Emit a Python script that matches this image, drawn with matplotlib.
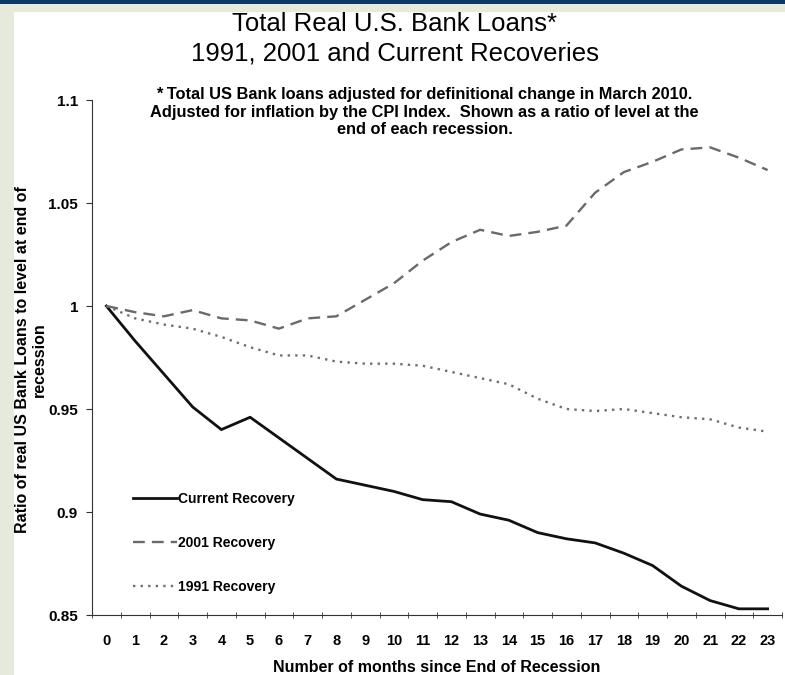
import matplotlib
matplotlib.use("Agg")
import matplotlib.pyplot as plt
from matplotlib.patches import Rectangle

plt.rcParams['font.family'] = ['Liberation Sans', 'DejaVu Sans']

# --- Données ---
months = list(range(24))
current = [1.000, 0.983, 0.967, 0.951, 0.940, 0.946, 0.936, 0.926, 0.916, 0.913,
           0.910, 0.906, 0.905, 0.899, 0.896, 0.890, 0.887, 0.885, 0.880, 0.874,
           0.864, 0.857, 0.853, 0.853]
rec_2001 = [1.000, 0.997, 0.995, 0.998, 0.994, 0.993, 0.989, 0.994, 0.995, 1.003,
            1.011, 1.022, 1.031, 1.037, 1.034, 1.036, 1.039, 1.055, 1.065, 1.070,
            1.076, 1.077, 1.072, 1.066]
rec_1991 = [1.000, 0.994, 0.991, 0.989, 0.985, 0.980, 0.976, 0.976, 0.973, 0.972,
            0.972, 0.971, 0.968, 0.965, 0.962, 0.955, 0.950, 0.949, 0.950, 0.948,
            0.946, 0.945, 0.941, 0.939]
y_ticks = [0.85, 0.9, 0.95, 1.0, 1.05, 1.1]
y_tick_labels = ['0.85', '0.9', '0.95', '1', '1.05', '1.1']

fig = plt.figure(figsize=(7.85, 6.75), dpi=100)
fig.patch.set_facecolor('white')

# Cadre : bande bleue en haut, bordure verte claire
green = '#e6eadb'
fig.patches.append(Rectangle((0, 1 - 12 / 675), 1, 12 / 675, transform=fig.transFigure,
                             facecolor=green, edgecolor='none', zorder=0))
fig.patches.append(Rectangle((0, 0), 14 / 785, 1, transform=fig.transFigure,
                             facecolor=green, edgecolor='none', zorder=0))
fig.patches.append(Rectangle((0, 1 - 3.5 / 675), 1, 3.5 / 675, transform=fig.transFigure,
                             facecolor='#0b3866', edgecolor='none', zorder=1))

ax = fig.add_axes([92 / 785, 1 - 615 / 675, (782 - 92) / 785, (615 - 100) / 675])

ax.plot(months, current, color='#111111', lw=2.0, label='Current Recovery')
ax.plot(months, rec_2001, color='#6a6a6a', lw=1.7, dashes=(5, 3), label='2001 Recovery')
ax.plot(months, rec_1991, color='#6f6f6f', lw=1.7, dashes=(1, 2.2), label='1991 Recovery')

ax.set_xlim(-0.5, 23.5)
ax.set_ylim(0.85, 1.1)
ax.spines['top'].set_visible(False)
ax.spines['right'].set_visible(False)
ax.spines['left'].set_color('#333333')
ax.spines['bottom'].set_color('#333333')

# Ticks style Excel : marques entre les catégories
ax.set_xticks(months)
ax.set_xticklabels([str(m) for m in months], fontweight='bold', fontsize=10.5)
ax.set_xticks([m + 0.5 for m in range(-1, 24)], minor=True)
ax.tick_params(axis='x', which='major', length=0, pad=14)
ax.tick_params(axis='x', which='minor', length=5, direction='inout', color='#333333')
ax.set_yticks(y_ticks)
ax.set_yticklabels(y_tick_labels, fontweight='bold', fontsize=11)
ax.tick_params(axis='y', length=4, color='#333333', pad=6)

ax.set_xlabel('Number of months since End of Recession', fontweight='bold', fontsize=11.5,
              labelpad=8)
fig.text(31 / 785, 1 - 360 / 675, 'Ratio of real US Bank Loans to level at end of\nrecession',
         rotation=90, ha='center', va='center', fontweight='bold', fontsize=11.5,
         linespacing=1.1)

ax.legend(loc='upper left', bbox_to_anchor=(0.059, 0.239), frameon=False,
          prop={'weight': 'bold', 'size': 10}, handlelength=3.2, handletextpad=0.05,
          labelspacing=2.15, borderaxespad=0, borderpad=0)

fig.text(0.503, 1 - 24 / 675, 'Total Real U.S. Bank Loans*', ha='center', va='center',
         fontsize=18.5)
fig.text(0.503, 1 - 54 / 675, '1991, 2001 and Current Recoveries', ha='center', va='center',
         fontsize=18.5)
fig.text(0.541, 1 - 112 / 675,
         '* Total US Bank loans adjusted for definitional change in March 2010.\n'
         'Adjusted for inflation by the CPI Index.  Shown as a ratio of level at the\n'
         'end of each recession.',
         ha='center', va='center', fontsize=11.8, fontweight='bold', linespacing=1.22)

fig.savefig('out.png', dpi=100)
